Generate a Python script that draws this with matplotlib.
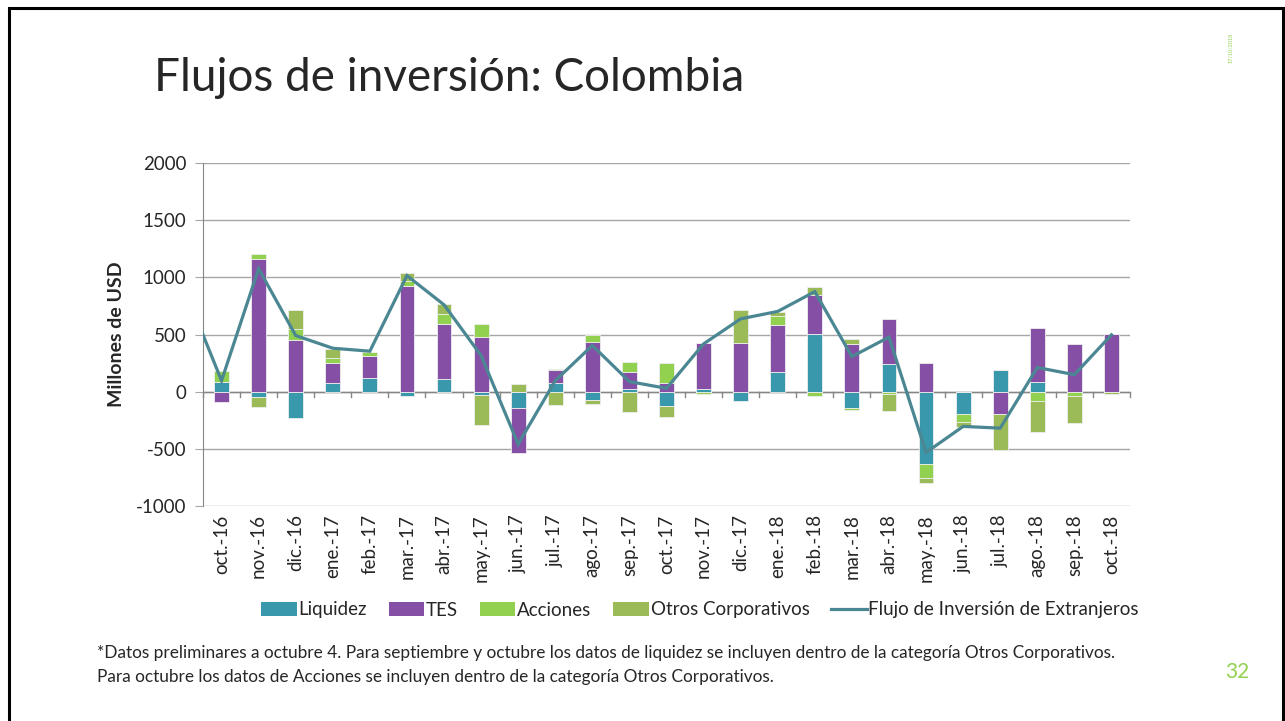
import numpy as np
import matplotlib
matplotlib.use("Agg")
from matplotlib import pyplot as plt
from matplotlib.patches import Patch, Rectangle
from matplotlib.lines import Line2D

plt.rcParams['font.family'] = ['Lato', 'DejaVu Sans']
plt.rcParams['axes.unicode_minus'] = False

meses = ["oct.-16", "nov.-16", "dic.-16", "ene.-17", "feb.-17", "mar.-17", "abr.-17",
         "may.-17", "jun.-17", "jul.-17", "ago.-17", "sep.-17", "oct.-17", "nov.-17",
         "dic.-17", "ene.-18", "feb.-18", "mar.-18", "abr.-18", "may.-18", "jun.-18",
         "jul.-18", "ago.-18", "sep.-18", "oct.-18"]

liquidez = [82, -44, -234, 73, 120, -35, 111, -26, -146, 76, -70, 23, -129,
            20, -85, 175, 506, -143, 243, -635, -196, 187, 85, 0, 0]
tes = [-94, 1161, 456, 176, 190, 927, 480, 474, -392, 111, 433, 152, 76,
       407, 424, 404, 339, 421, 392, 251, 0, -196, 476, 415, 506]
acciones = [96, 41, 94, 46, 38, 41, 90, 114, 0, 15, 67, 88, 175,
            -18, 0, 79, -35, -21, -23, -122, -73, 0, -85, -35, 0]
otros = [0, -93, 166, 76, 0, 73, 82, -263, 70, -120, -38, -181, -96,
         0, 292, 41, 67, 44, -147, -44, -44, -313, -266, -240, -23]

# flujo total, con el mes previo (sep.-16) que sale recortado a la izquierda
flujo_meses = ["sep.-16"] + meses
flujo = [900, 96, 1076, 491, 380, 354, 1015, 760, 316, -459, 96, 404, 88, 29,
         418, 637, 702, 875, 307, 477, -532, -304, -319, 211, 149, 497]

series = [("Liquidez", liquidez, "#3A98AD"),
          ("TES", tes, "#864FA6"),
          ("Acciones", acciones, "#92D050"),
          ("Otros Corporativos", otros, "#9BBB59")]
line_color = "#4B8793"

fig = plt.figure(figsize=(12.85, 7.21), dpi=100)
fig.patch.set_facecolor("white")

# marco de la diapositiva
fig.patches.append(Rectangle((9 / 1285, -0.05), (1283 - 9) / 1285, 1.05 - 8 / 721,
                             transform=fig.transFigure, fill=False,
                             edgecolor="black", lw=2.2))

ax = fig.add_axes([203 / 1285, 1 - 506 / 721, (1130 - 203) / 1285, (506 - 163) / 721])

x = np.arange(len(meses))
pos_base = np.zeros(len(meses))
neg_base = np.zeros(len(meses))
for nombre, vals, color in series:
    v = np.array(vals, dtype=float)
    base = np.where(v >= 0, pos_base, neg_base)
    ax.bar(x, v, 0.4, bottom=base, color=color, edgecolor="#EEEEEE", linewidth=0.6, zorder=3)
    pos_base += np.where(v >= 0, v, 0)
    neg_base += np.where(v < 0, v, 0)

xf = np.arange(-1, len(meses))
ax.plot(xf, flujo, color=line_color, lw=2.3, zorder=4, solid_joinstyle="miter")

ax.set_xlim(-0.5, len(meses) - 0.5)
ax.set_ylim(-1000, 2000)
ax.set_yticks(np.arange(-1000, 2001, 500))
ax.grid(axis="y", color="#A6A6A6", lw=1, zorder=0)
ax.axhline(0, color="#868686", lw=1, zorder=2)
for b in np.arange(-0.5, len(meses) + 0.5, 1):
    ax.plot([b, b], [0, -50], color="#868686", lw=1, zorder=2, clip_on=False)

for s in ["top", "right", "bottom"]:
    ax.spines[s].set_visible(False)
ax.spines["left"].set_color("#868686")
ax.tick_params(axis="y", length=6, color="#A6A6A6", labelsize=13.5, pad=6, labelcolor="#262626")
ax.set_xticks(x)
ax.set_xticklabels(meses, rotation=90, fontsize=13.5, color="#262626")
ax.tick_params(axis="x", length=0, pad=6)
ax.set_ylabel("Millones de USD", fontsize=14, fontweight="bold", color="#262626", labelpad=8)

handles = [Patch(facecolor=c, label=n) for n, _, c in series]
handles.append(Line2D([], [], color=line_color, lw=2.3, label="Flujo de Inversión de Extranjeros"))
fig.legend(handles=handles, loc="center", bbox_to_anchor=(700 / 1285, 1 - 610 / 721), ncol=5,
           frameon=False, fontsize=13.5, handlelength=1.9, handleheight=0.75,
           handletextpad=0.1, columnspacing=1.15, labelcolor="#262626")

fig.text(154 / 1285, 1 - 78 / 721, "Flujos de inversión: Colombia", fontsize=33,
         color="#262626", va="center", ha="left")
fig.text(1231 / 1285, 1 - 48 / 721, "17/10/2018", fontsize=4, color="#92D050",
         rotation=90, va="center", ha="center")
fig.text(97 / 1285, 1 - 653 / 721,
         "*Datos preliminares a octubre 4. Para septiembre y octubre los datos de liquidez se incluyen dentro de la categoría Otros Corporativos.",
         fontsize=12.4, color="#262626", va="center", ha="left")
fig.text(97 / 1285, 1 - 677 / 721,
         "Para octubre los datos de Acciones se incluyen dentro de la categoría Otros Corporativos.",
         fontsize=12.4, color="#262626", va="center", ha="left")
fig.text(1237 / 1285, 1 - 672 / 721, "32", fontsize=15, color="#92D050", va="center", ha="center")

fig.savefig("out.png", dpi=100, facecolor="white")
